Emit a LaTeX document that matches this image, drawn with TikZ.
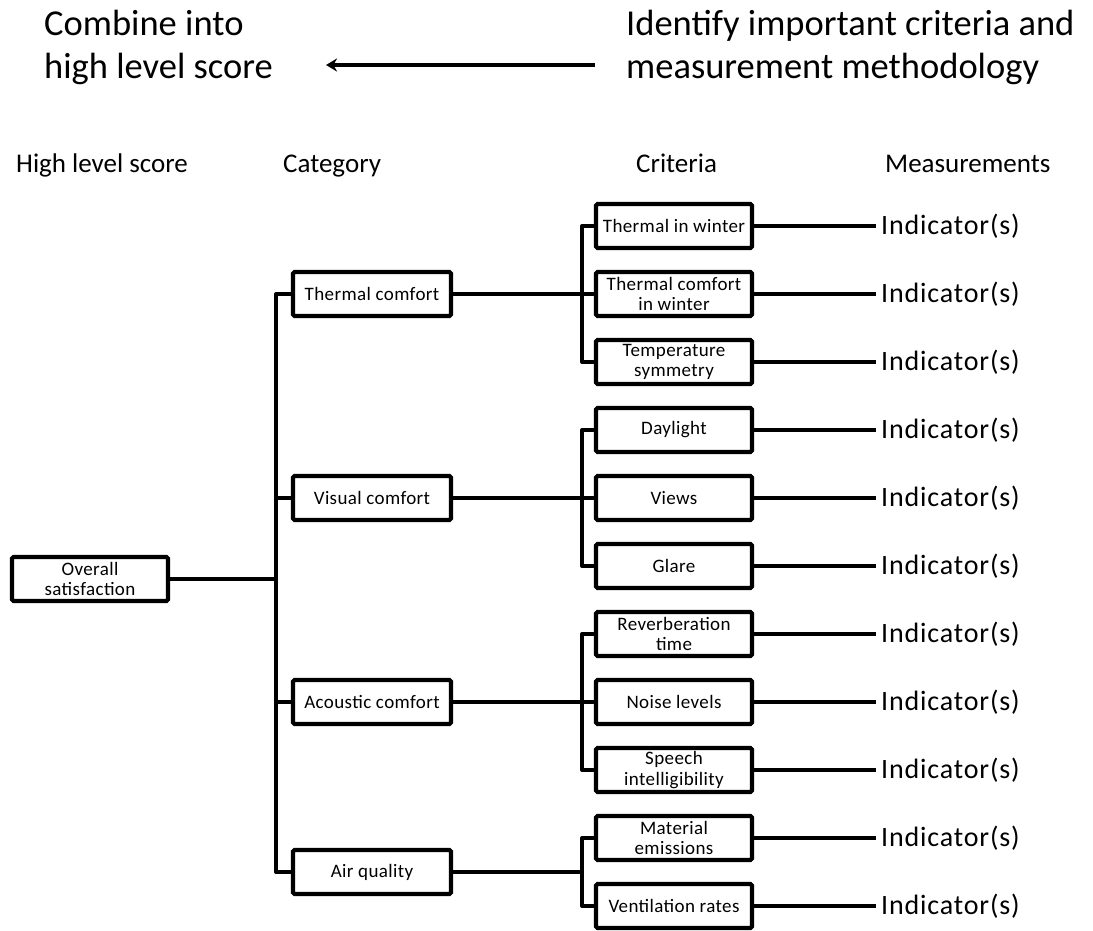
\documentclass[tikz,border=0pt]{standalone}
\usepackage{fontspec}
\setmainfont{Carlito}
\newfontfamily\boxfont[LetterSpace=2]{Carlito}
\newfontfamily\indfont[LetterSpace=3]{Carlito}
\usetikzlibrary{arrows.meta}
\tikzset{
  box/.style={draw, line width=4.2pt, rounded corners=1.5pt, minimum width=156pt, minimum height=44pt, inner sep=1pt, align=center, font=\boxfont\fontsize{19}{20.5}\selectfont},
  catbox/.style={box, minimum width=158pt},
  conn/.style={line width=4pt, line join=round},
  hdr/.style={anchor=base west, inner sep=0pt, font=\fontsize{27}{32}\selectfont},
  ind/.style={anchor=west, inner sep=0pt, inner xsep=5pt, font=\indfont\fontsize{28}{32}\selectfont},
  big/.style={anchor=north west, inner sep=0pt, align=left, font=\fontsize{36.5}{43}\selectfont},
}
\begin{document}
\begin{tikzpicture}[x=1pt, y=-1pt]
\useasboundingbox (0,0) rectangle (1093,931);
% top texts
\node[big] (t1) at (44,10) {Combine into\\high level score};
\node[big] (t2) at (626,10) {Identify important criteria and\\measurement methodology};
\coordinate (aS) at (595,65);
\coordinate (aE) at (326,65);
\draw[line width=4pt, -{Stealth[length=11pt,width=13pt]}] (aS) -- (aE);
% headers
\node[hdr] (h1) at (16,173) {High level score};
\node[hdr] (h2) at (283,173) {Category};
\node[hdr] (h3) at (636,173) {Criteria};
\node[hdr] (h4) at (885,173) {Measurements};
% spines
\coordinate (s1) at (276,0);
\coordinate (s2) at (582,0);
% overall
\node[box] (ov) at (90,579) {Overall\\satisfaction};
% categories
\node[catbox] (tc) at (372,294) {Thermal comfort};
\node[catbox] (vc) at (372,498) {Visual comfort};
\node[catbox] (ac) at (372,702) {Acoustic comfort};
\node[catbox] (aq) at (372,872) {Air quality};
% criteria
\node[box] (c1) at (674,226) {Thermal in winter};
\node[box] (c2) at (674,294) {Thermal comfort\\in winter};
\node[box] (c3) at (674,362) {Temperature\\symmetry};
\node[box] (c4) at (674,430) {Daylight};
\node[box] (c5) at (674,498) {Views};
\node[box] (c6) at (674,566) {Glare};
\node[box] (c7) at (674,634) {Reverberation\\time};
\node[box] (c8) at (674,702) {Noise levels};
\node[box] (c9) at (674,770) {Speech\\intelligibility};
\node[box] (c10) at (674,838) {Material\\emissions};
\node[box] (c11) at (674,906) {Ventilation rates};
% indicators
\foreach \i/\y in {1/226,2/294,3/362,4/430,5/498,6/566,7/634,8/702,9/770,10/838,11/906}{
  \node[ind] (i\i) at (876,\y) {Indicator(s)};
  \draw[conn] (c\i.east) -- (i\i.west);
}
% overall to categories
\draw[conn] (ov.east) -- (ov.east -| s1);
\draw[conn] (tc.west) -- (tc.west -| s1) -- (aq.west -| s1) -- (aq.west);
\draw[conn] (vc.west) -- (vc.west -| s1);
\draw[conn] (ac.west) -- (ac.west -| s1);
% categories to criteria
\draw[conn] (tc.east) -- (c2.west);
\draw[conn] (c1.west) -- (c1.west -| s2) -- (c3.west -| s2) -- (c3.west);
\draw[conn] (vc.east) -- (c5.west);
\draw[conn] (c4.west) -- (c4.west -| s2) -- (c6.west -| s2) -- (c6.west);
\draw[conn] (ac.east) -- (c8.west);
\draw[conn] (c7.west) -- (c7.west -| s2) -- (c9.west -| s2) -- (c9.west);
\draw[conn] (aq.east) -- (aq.east -| s2);
\draw[conn] (c10.west) -- (c10.west -| s2) -- (c11.west -| s2) -- (c11.west);
\end{tikzpicture}
\end{document}
